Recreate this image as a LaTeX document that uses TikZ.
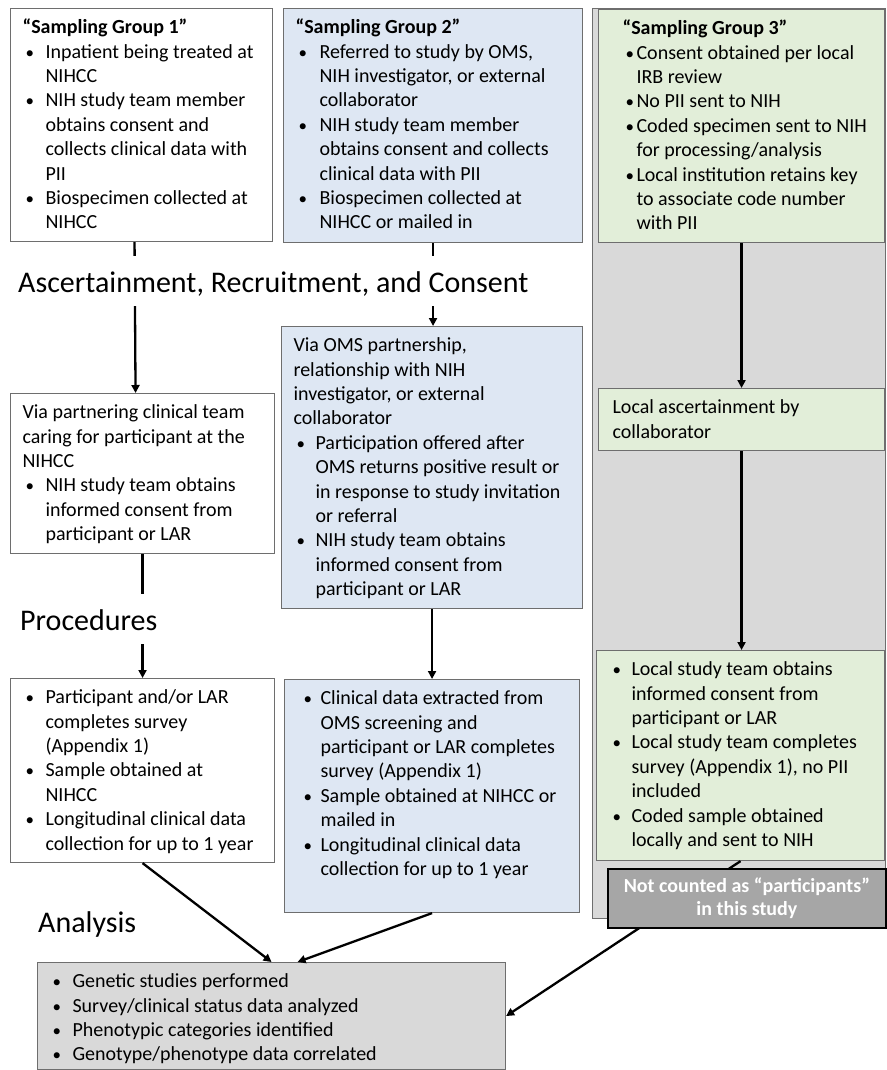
\documentclass[tikz,border=0pt]{standalone}
\usepackage{fontspec}
\setmainfont{Carlito}
\usetikzlibrary{arrows.meta}

\definecolor{sgblue}{HTML}{DEE7F3}
\definecolor{sggreen}{HTML}{E2EED9}
\definecolor{sggray}{HTML}{D9D9D9}
\definecolor{sgdark}{HTML}{A6A6A6}
\definecolor{sgline}{HTML}{6E6E6E}

% bullet item, #1 = hanging indent
\newcommand\itm[1][23pt]{\par\hangindent=#1\hangafter=1\noindent\strut
  \makebox[#1][l]{\hspace{3pt}{\fontsize{17}{17}\selectfont\textbullet}}\ignorespaces}
% box text: width, height, left skip, text
\newcommand\cell[4]{\parbox[t][#2][t]{#1}{\fontsize{20}{24.4}\selectfont
  \leftskip=#3\rightskip=0pt plus 1fil\parfillskip=0pt plus 1fil\parindent=0pt
  \vspace*{8pt}#4}}

\tikzset{
  box/.style={draw=sgline, line width=1.1pt, inner sep=0pt, anchor=north west},
  head/.style={fill=white, inner sep=0pt, anchor=base west, text height=36pt,
    text depth=14pt, font=\fontsize{30}{36}\selectfont},
  arr/.style={line width=2.3pt, -{Triangle[length=8pt,width=8pt]}},
}

\begin{document}
\begin{tikzpicture}[x=1pt,y=-1pt]
\useasboundingbox (0,0) rectangle (886,1070);

% column of group 3
\node[box, fill=sggray, line width=1pt, minimum width=293pt, minimum height=910pt] (panel) at (592,8) {};

% sampling groups
\node[box, fill=white] (g1) at (10,8) {\cell{262pt}{233pt}{12pt}{\strut\textbf{“Sampling Group 1”}
  \itm Inpatient being treated at\newline NIHCC
  \itm NIH study team member\newline obtains consent and\newline collects clinical data with\newline PII
  \itm Biospecimen collected at\newline NIHCC}};
\node[box, fill=sgblue] (g2) at (283,8) {\cell{299pt}{234pt}{12pt}{\strut\textbf{“Sampling Group 2”}
  \itm[24pt] Referred to study by OMS,\newline NIH investigator, or external\newline collaborator
  \itm[24pt] NIH study team member\newline obtains consent and collects\newline clinical data with PII
  \itm[24pt] Biospecimen collected at\newline NIHCC or mailed in}};
\node[box, fill=sggreen] (g3) at (598,9) {\cell{286pt}{233pt}{24pt}{\strut\textbf{“Sampling Group 3”}
  \itm[14pt] Consent obtained per local\newline IRB review
  \itm[14pt] No PII sent to NIH
  \itm[14pt] Coded specimen sent to NIH\newline for processing/analysis
  \itm[14pt] Local institution retains key\newline to associate code number\newline with PII}};

% ascertainment, recruitment, consent
\node[box, fill=white] (c1) at (10,393) {\cell{264pt}{160pt}{12pt}{\strut Via partnering clinical team\newline caring for participant at the\newline NIHCC
  \itm NIH study team obtains\newline informed consent from\newline participant or LAR}};
\node[box, fill=sgblue] (c2) at (281,326) {\cell{301pt}{282pt}{12pt}{\strut Via OMS partnership,\newline relationship with NIH\newline investigator, or external\newline collaborator
  \itm[22pt] Participation offered after\newline OMS returns positive result or\newline in response to study invitation\newline or referral
  \itm[22pt] NIH study team obtains\newline informed consent from\newline participant or LAR}};
\node[box, fill=sggreen] (c3) at (598,388) {\cell{286pt}{62pt}{14pt}{\strut Local ascertainment by\newline collaborator}};

% procedures
\node[box, fill=white] (p1) at (10,678) {\cell{264pt}{184pt}{12pt}{%
  \itm Participant and/or LAR\newline completes survey\newline (Appendix 1)
  \itm Sample obtained at\newline NIHCC
  \itm Longitudinal clinical data\newline collection for up to 1 year}};
\node[box, fill=sgblue] (p2) at (284,679) {\cell{295pt}{233pt}{16pt}{%
  \itm[20pt] Clinical data extracted from\newline OMS screening and\newline participant or LAR completes\newline survey (Appendix 1)
  \itm[20pt] Sample obtained at NIHCC or\newline mailed in
  \itm[20pt] Longitudinal clinical data\newline collection for up to 1 year}};
\node[box, fill=sggreen] (p3) at (596,650) {\cell{288pt}{210pt}{13pt}{%
  \itm[22pt] Local study team obtains\newline informed consent from\newline participant or LAR
  \itm[22pt] Local study team completes\newline survey (Appendix 1), no PII\newline included
  \itm[22pt] Coded sample obtained\newline locally and sent to NIH}};

% analysis
\node[box, fill=sggray] (an) at (37,962) {\cell{468pt}{107pt}{12pt}{%
  \itm Genetic studies performed
  \itm Survey/clinical status data analyzed
  \itm Phenotypic categories identified
  \itm Genotype/phenotype data correlated}};

% arrows
\draw[arr] ([xshift=-7pt]g1.south) -- ([xshift=-7pt]c1.north);
\draw[arr] (c1.south) -- (c1.south |- p1.north);
\draw[arr] (g2.south) -- (g2.south |- c2.north);
\draw[arr] (c2.south) -- (c2.south |- p2.north);
\draw[arr] (g3.south) -- (g3.south |- c3.north);
\draw[arr] (c3.south) -- (c3.south |- p3.north);
\draw[arr] (p1.south) -- (an.north);
\draw[arr] (p2.south) -- ([xshift=26pt]an.north);
\draw[arr] (p3.south) -- (an.east);

% stage titles
\node[head] (hconsent) at (18,292) {Ascertainment, Recruitment, and Consent};
\node[head] (hproc) at (20,630) {Procedures};
\node[head] (hanalysis) at (38,932) {Analysis};

\node[box, draw=black, line width=1.8pt, fill=sgdark, text=white, align=center,
  minimum width=278pt, minimum height=59pt,
  font=\bfseries\fontsize{20}{23}\selectfont] (nc) at (607,868)
  {Not counted as “participants”\\in this study};
\end{tikzpicture}
\end{document}
